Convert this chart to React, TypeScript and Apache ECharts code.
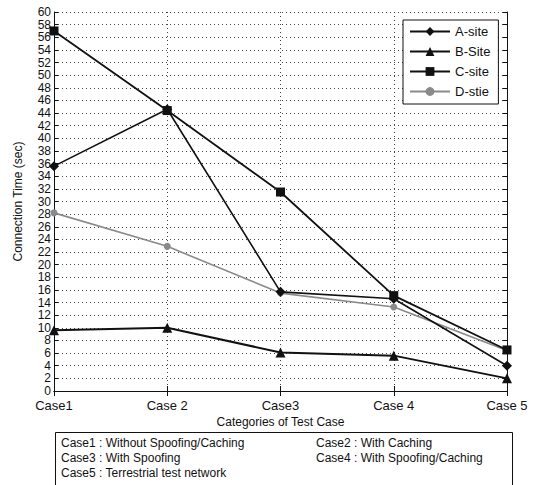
import React, { useEffect, useRef } from "react";
import * as echarts from "echarts";

const categories = ["Case1", "Case 2", "Case3", "Case 4", "Case 5"];
const aSite = [35.6, 44.6, 15.7, 14.6, 4.0];
const bSite = [9.6, 10.0, 6.1, 5.6, 2.0];
const cSite = [57.0, 44.4, 31.5, 15.1, 6.5];
const dStie = [28.2, 22.9, 15.5, 13.3, 6.4];
const notes = [
  ["Case1 : Without Spoofing/Caching", "Case2 : With Caching"],
  ["Case3 : With Spoofing", "Case4 : With Spoofing/Caching"],
  ["Case5 : Terrestrial test network", ""],
];

const FONT = "'Liberation Sans Narrow', 'Liberation Sans', Arial, sans-serif";

export default function App() {
  const ref = useRef<HTMLDivElement>(null);
  useEffect(() => {
    const chart = echarts.init(ref.current!, null, { renderer: "svg" });
    const mk = (name: string, data: number[], symbol: string, size: number, color: string, width: number) => ({
      name,
      type: "line",
      data,
      symbol,
      symbolSize: size,
      itemStyle: { color },
      lineStyle: { color, width },
      z: name === "D-stie" ? 3 : 4,
    });
    const noteTexts: any[] = [];
    notes.forEach((row, i) => {
      row.forEach((t, j) => {
        if (!t) return;
        noteTexts.push({
          type: "text",
          left: j === 0 ? 61 : 316,
          top: 437 + i * 15,
          style: { text: t, font: `12px ${FONT}`, fill: "#111" },
        });
      });
    });
    chart.setOption({
      animation: false,
      backgroundColor: "#fff",
      textStyle: { fontFamily: FONT },
      grid: { left: 54, right: 29, top: 12, bottom: 94, containLabel: false },
      legend: {
        orient: "vertical",
        left: 403,
        top: 20,
        itemWidth: 40,
        itemHeight: 11,
        itemGap: 7,
        padding: [5, 8, 6, 6],
        borderColor: "#111",
        borderWidth: 1,
        backgroundColor: "#fff",
        textStyle: { fontSize: 13, color: "#111", fontFamily: FONT },
        data: ["A-site", "B-Site", "C-site", "D-stie"],
      },
      xAxis: [
        {
          type: "category",
          data: categories,
          boundaryGap: false,
          name: "Categories of Test Case",
          nameLocation: "middle",
          nameGap: 22,
          nameTextStyle: { fontSize: 12, lineHeight: 12, color: "#111", fontFamily: FONT },
          axisLine: { lineStyle: { color: "#111", width: 1 } },
          axisTick: { inside: true, length: 5, lineStyle: { color: "#111" } },
          axisLabel: { fontSize: 13, lineHeight: 12, color: "#111", margin: 8, fontFamily: FONT },
          splitLine: { show: true, lineStyle: { color: "#444", type: [1, 3], width: 1 } },
        },
        {
          type: "category",
          data: categories,
          boundaryGap: false,
          position: "top",
          axisLine: { lineStyle: { color: "#111", width: 1 } },
          axisTick: { inside: true, length: 5, lineStyle: { color: "#111" } },
          axisLabel: { show: false },
          splitLine: { show: false },
        },
      ],
      yAxis: [
        {
          type: "value",
          min: 0,
          max: 60,
          interval: 2,
          name: "Connection Time (sec)",
          nameLocation: "middle",
          nameGap: 30,
          nameTextStyle: { fontSize: 12, color: "#111", fontFamily: FONT },
          axisLine: { show: true, lineStyle: { color: "#111", width: 1 } },
          axisTick: { show: true, inside: true, length: 4, lineStyle: { color: "#111" } },
          axisLabel: {
            fontSize: 12,
            lineHeight: 12,
            color: "#111",
            margin: 3,
            fontFamily: FONT,
            showMinLabel: true,
            showMaxLabel: true,
            hideOverlap: false,
          },
          splitLine: { show: true, lineStyle: { color: "#444", type: [1, 3], width: 1 } },
        },
        {
          type: "value",
          min: 0,
          max: 60,
          interval: 2,
          position: "right",
          axisLine: { show: true, lineStyle: { color: "#111", width: 1 } },
          axisTick: { show: true, inside: true, length: 4, lineStyle: { color: "#111" } },
          axisLabel: { show: false },
          splitLine: { show: false },
        },
      ],
      series: [
        mk("A-site", aSite, "diamond", 10, "#111", 1.6),
        mk("B-Site", bSite, "triangle", 10, "#111", 2),
        mk("C-site", cSite, "rect", 9, "#111", 1.8),
        mk("D-stie", dStie, "circle", 7, "#8a8a8a", 1.6),
      ],
      graphic: [
        {
          type: "rect",
          left: 55,
          top: 432,
          shape: { width: 457, height: 60 },
          style: { fill: "#fff", stroke: "#111", lineWidth: 1 },
        },
        ...noteTexts,
      ],
    });
    return () => chart.dispose();
  }, []);
  return <div ref={ref} style={{ width: 536, height: 485, position: "absolute", left: 0, top: 0 }} />;
}
